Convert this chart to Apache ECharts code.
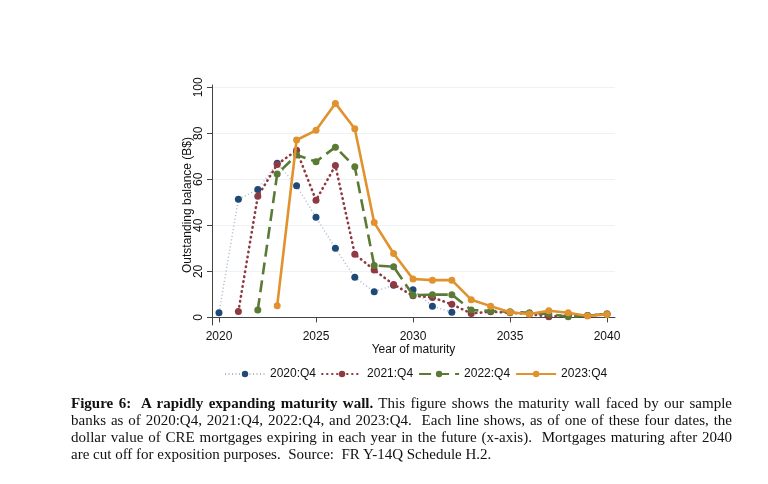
<!DOCTYPE html>
<html>
<head>
<meta charset="utf-8">
<script src="https://cdn.jsdelivr.net/npm/echarts@6/dist/echarts.min.js"></script>
<style>
  html, body { margin: 0; padding: 0; background: #fff; }
  #chart { width: 768px; height: 484px; position: absolute; left: 0; top: 0; }
  #caption {
    position: absolute; left: 71px; top: 395px; width: 661px;
    font-family: "Liberation Serif", "DejaVu Serif", serif;
    font-size: 15px; line-height: 17px; color: #111;
  }
  #caption .ln { text-align: justify; text-align-last: justify; white-space: nowrap; }
  #caption .ln.last { text-align-last: left; }
</style>
</head>
<body>
<div id="chart"></div>
<div id="caption">
  <div class="ln"><b>Figure 6:&nbsp; A rapidly expanding maturity wall.</b> This figure shows the maturity wall faced by our sample</div>
  <div class="ln">banks as of 2020:Q4, 2021:Q4, 2022:Q4, and 2023:Q4. &nbsp;Each line shows, as of one of these four dates, the</div>
  <div class="ln">dollar value of CRE mortgages expiring in each year in the future (x-axis). &nbsp;Mortgages maturing after 2040</div>
  <div class="ln last">are cut off for exposition purposes. &nbsp;Source: &nbsp;FR Y-14Q Schedule H.2.</div>
</div>
<script>
  // years 2020..2040
  const years = [];
  for (let y = 2020; y <= 2040; y++) years.push(y);

  const xTicks = [2020, 2025, 2030, 2035, 2040];
  const yTicks = [0, 20, 40, 60, 80, 100];

  // balances (B$) by maturity year
  const s2020 = [2, 51.4, 55.6, 67, 57.2, 43.5, 30, 17.4, 11.2, 14, 12, 4.9, 2.2];
  const s2021 = [null, 2.6, 52.6, 66.5, 72.6, 50.9, 66, 27.5, 20.6, 14.3, 9.4, 8.7, 5.7, 1.7, 2.5, 2, 1.5, 0.3, 1, 0.8, 1.5];
  const s2022 = [null, null, 3.2, 62.3, 70.6, 67.7, 74, 65.5, 22.6, 22, 9.7, 9.9, 9.9, 3.2, 2.8, 2.5, 2, 1.5, 0.3, 0.8, 1.5];
  const s2023 = [null, null, null, 5.1, 77.1, 81.3, 93, 82, 41.2, 27.8, 16.7, 16.2, 16.2, 7.7, 4.9, 2.2, 1.5, 2.9, 2, 0.6, 1.3];

  const pairs = (arr) => arr.map((v, i) => [years[i], v]).filter(p => p[1] !== null);

  const chart = echarts.init(document.getElementById("chart"), null, { renderer: "canvas" });

  const font = "Liberation Sans, Arial, sans-serif";

  const option = {
    animation: false,
    backgroundColor: "#fff",
    grid: { left: 212, right: 153, top: 85, bottom: 159, containLabel: false },
    legend: {
      bottom: 99,
      left: 219,
      itemWidth: 40,
      itemHeight: 8,
      itemGap: 5,
      textStyle: { fontFamily: font, fontSize: 12, color: "#111" },
      data: ["2020:Q4", "2021:Q4", "2022:Q4", "2023:Q4"]
    },
    xAxis: {
      type: "value",
      min: 2019.64,
      max: 2040.41,
      name: "Year of maturity",
      nameLocation: "middle",
      nameGap: 19,
      nameMoveOverlap: false,
      nameTextStyle: { fontFamily: font, fontSize: 12, color: "#111" },
      axisLine: { show: true, lineStyle: { color: "#444", width: 1 } },
      axisTick: { show: true, customValues: xTicks, length: 5, lineStyle: { color: "#444" } },
      axisLabel: { customValues: xTicks, formatter: (v) => String(v), fontFamily: font, fontSize: 12, color: "#111", margin: 6 },
      splitLine: { show: false }
    },
    yAxis: {
      type: "value",
      min: -3.3,
      max: 101,
      name: "Outstanding balance (B$)",
      nameLocation: "middle",
      nameGap: 18,
      nameMoveOverlap: false,
      nameTextStyle: { fontFamily: font, fontSize: 12, color: "#111" },
      axisLine: { show: true, lineStyle: { color: "#444", width: 1 } },
      axisTick: { show: true, customValues: yTicks, length: 5, lineStyle: { color: "#444" } },
      axisLabel: { customValues: yTicks, rotate: 90, fontFamily: font, fontSize: 12, color: "#111", margin: 7 },
      splitLine: { show: true, customValues: yTicks, lineStyle: { color: "#eef2f4", width: 1 } }
    },
    series: [
      {
        name: "2020:Q4", type: "line", data: pairs(s2020),
        symbol: "circle", symbolSize: 7,
        itemStyle: { color: "#1f4a78" },
        lineStyle: { color: "#a9b8cc", width: 1.5, type: [1, 2.5] },
        z: 2
      },
      {
        name: "2021:Q4", type: "line", data: pairs(s2021),
        symbol: "circle", symbolSize: 7,
        itemStyle: { color: "#8e3a40" },
        lineStyle: { color: "#8e3a40", width: 2.6, type: [0.5, 4.5], cap: "round" },
        z: 3
      },
      {
        name: "2022:Q4", type: "line", data: pairs(s2022),
        symbol: "circle", symbolSize: 7,
        itemStyle: { color: "#5a7a35" },
        lineStyle: { color: "#5a7a35", width: 2.6, type: [12, 6] },
        z: 4
      },
      {
        name: "2023:Q4", type: "line", data: pairs(s2023),
        symbol: "circle", symbolSize: 7,
        itemStyle: { color: "#e0922f" },
        lineStyle: { color: "#e0922f", width: 2.6, type: "solid" },
        z: 5
      }
    ]
  };

  chart.setOption(option);
</script>
</body>
</html>
